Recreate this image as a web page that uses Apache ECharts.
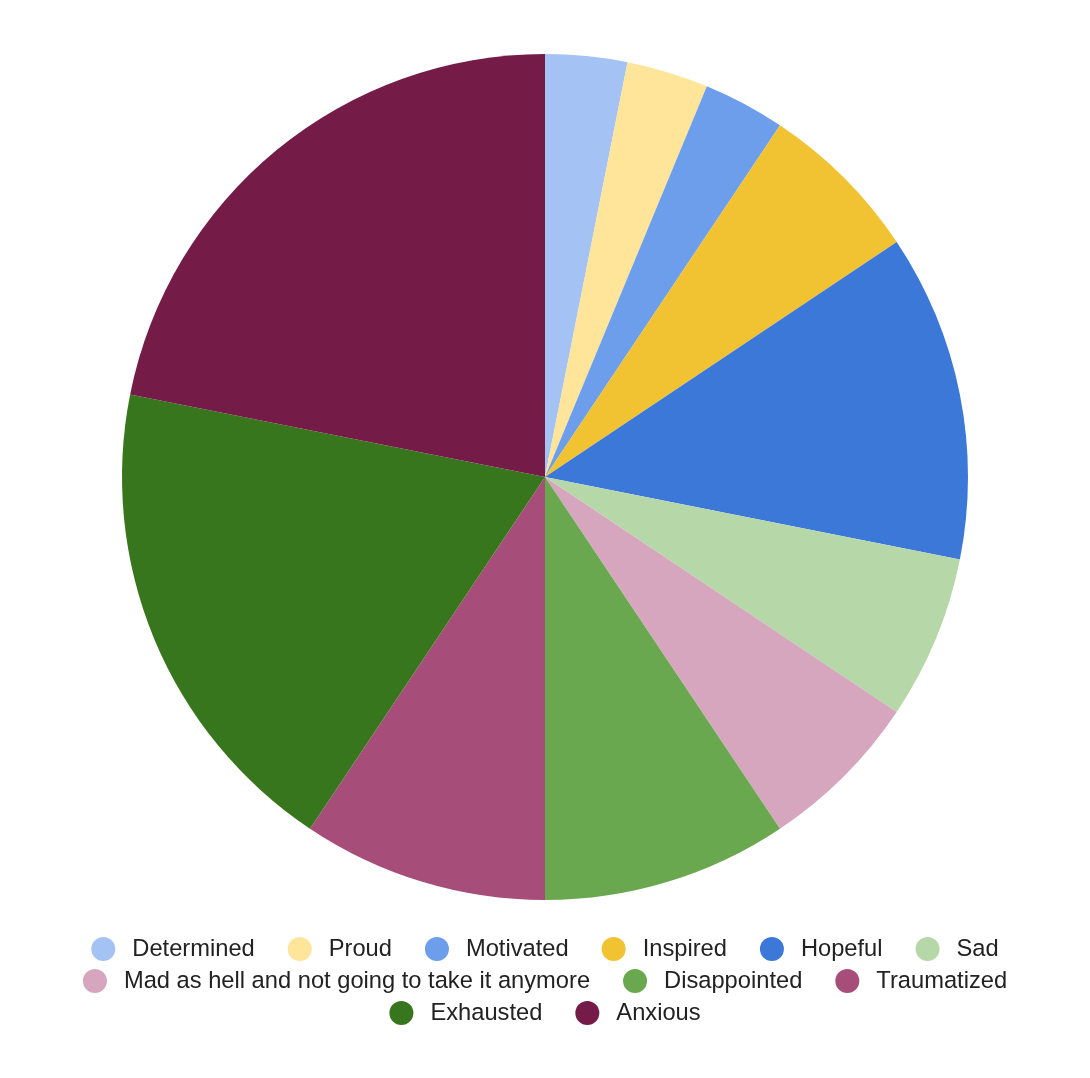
<!DOCTYPE html>
<html>
<head>
<meta charset="utf-8">
<script src="https://cdn.jsdelivr.net/npm/echarts@6/dist/echarts.min.js"></script>
<style>
  html, body { margin: 0; padding: 0; background: #ffffff; }
  #chart { width: 1090px; height: 1078px; }
</style>
</head>
<body>
<div id="chart"></div>
<script>
// Feelings, in clockwise order from the top of the pie
const categories = [
  'Determined', 'Proud', 'Motivated', 'Inspired', 'Hopeful', 'Sad',
  'Mad as hell and not going to take it anymore', 'Disappointed',
  'Traumatized', 'Exhausted', 'Anxious'
];
const counts = [1, 1, 1, 2, 4, 2, 2, 3, 3, 6, 7];
const colors = [
  '#a4c2f4', '#ffe599', '#6d9eeb', '#f1c232', '#3c78d8', '#b6d7a8',
  '#d5a6bd', '#6aa84f', '#a64d79', '#38761d', '#741b47'
];
// Legend rows
const legendRows = [
  categories.slice(0, 6),
  categories.slice(6, 9),
  categories.slice(9)
];

const chart = echarts.init(document.getElementById('chart'), null, { renderer: 'canvas' });

const legendBase = {
  orient: 'horizontal',
  left: 'center',
  icon: 'circle',
  itemWidth: 24,
  itemHeight: 24,
  itemGap: 33,
  selectedMode: false,
  textStyle: {
    fontFamily: 'Liberation Sans, Arial, sans-serif',
    fontSize: 23.7,
    color: '#222222',
    padding: [0, 0, 0, 12]
  }
};

chart.setOption({
  animation: false,
  color: colors,
  legend: legendRows.map((row, i) => Object.assign({}, legendBase, {
    top: 932 + i * 32,
    data: row
  })),
  series: [{
    type: 'pie',
    center: [545, 477],
    radius: [0, 423],
    startAngle: 90,
    clockwise: true,
    label: { show: false },
    labelLine: { show: false },
    emphasis: { disabled: true },
    itemStyle: { borderWidth: 0 },
    data: categories.map((name, i) => ({ name: name, value: counts[i] }))
  }]
});
</script>
</body>
</html>
